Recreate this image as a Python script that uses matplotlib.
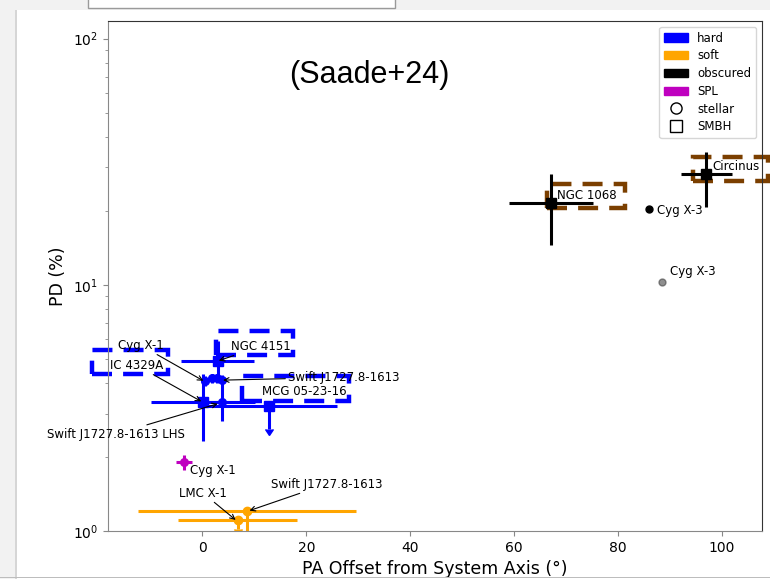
import numpy as np
import matplotlib.pyplot as plt
from matplotlib.patches import Patch, Rectangle
from matplotlib.lines import Line2D

fs = 8.5

# hard state, stellar-mass (circles)
hard_st_x = [0.5, 1.8, 2.8, 3.7, 3.8]
hard_st_y = [4.05, 4.2, 4.2, 4.1, 3.34]
hard_st_xerr = [0.6, 0.6, 0.6, 0.6, 3.0]
hard_st_ylo = [0.15, 0.2, 0.2, 0.15, 0.55]
hard_st_yhi = [0.2, 0.15, 0.15, 0.2, 0.8]

# hard state, SMBH (squares): NGC 4151, IC 4329A
hard_bh_x = [2.9, 0.1]
hard_bh_y = [4.9, 3.34]
hard_bh_xerr = [7.0, 10.0]
hard_bh_ylo = [0.76, 1.02]
hard_bh_yhi = [1.0, 0.99]

# MCG 05-23-16 (upper limit)
mcg_x, mcg_y, mcg_xerr, mcg_yerr = 12.9, 3.22, 13.0, 0.63

# soft state, stellar: LMC X-1 (upper limit), Swift J1727.8-1613
lmc_x, lmc_y, lmc_xerr, lmc_yerr = 6.8, 1.108, 11.5, 0.09
sws_x, sws_y, sws_xerr, sws_ylo = 8.6, 1.205, 21.0, 0.3

# SPL: Cyg X-1
spl_x, spl_y, spl_xerr, spl_yerr = -3.6, 1.905, 1.5, 0.14

# obscured SMBH: NGC 1068, Circinus
obs_bh_x = [67.2, 97.1]
obs_bh_y = [21.6, 28.1]
obs_bh_xerr = [8.1, 5.0]
obs_bh_ylo = [7.1, 7.3]
obs_bh_yhi = [6.5, 6.4]

# obscured stellar: Cyg X-3 (two estimates)
cx3_x = [86.1, 88.6]
cx3_y = [20.4, 10.3]

# dashed boxes: x0, x1, y0, y1, color
box_x0 = [-21.3, 2.6, 7.6, 66.4, 94.6]
box_x1 = [-6.65, 17.5, 28.2, 81.5, 109.0]
box_y0 = [4.33, 5.18, 3.37, 20.6, 26.5]
box_y1 = [5.42, 6.48, 4.26, 25.8, 33.2]
box_col = ["b", "b", "b", "#7b3f00", "#7b3f00"]

# labels: text, point (x, y), text position (x, y), arrow?
labels = [
    ("NGC 4151", (2.9, 4.9), (5.5, 5.63), True),
    ("Cyg X-1", (0.4, 4.05), (-16.3, 5.68), True),
    ("IC 4329A", (0.0, 3.34), (-17.8, 4.71), True),
    ("Swift J1727.8-1613", (3.7, 4.1), (16.5, 4.21), True),
    ("MCG 05-23-16", (12.9, 3.22), (11.5, 3.70), False),
    ("Swift J1727.8-1613 LHS", (3.2, 3.3), (-30.0, 2.475), True),
    ("Cyg X-1", (-3.6, 1.905), (-2.4, 1.768), False),
    ("LMC X-1", (6.6, 1.1), (-4.5, 1.426), True),
    ("Swift J1727.8-1613", (8.8, 1.205), (13.2, 1.551), True),
    ("NGC 1068", (67.2, 21.6), (68.4, 23.1), False),
    ("Circinus", (97.1, 28.1), (98.3, 30.3), False),
    ("Cyg X-3", (86.1, 20.4), (87.5, 20.05), False),
    ("Cyg X-3", (88.6, 10.3), (90.0, 11.35), False),
]

fig = plt.figure(figsize=(7.7, 5.79), dpi=100)

# slide background bits
fig.patches.append(Rectangle((0, 0), 15 / 770, 1, transform=fig.transFigure,
                             fc="#f2f2f2", ec="none", zorder=0))
fig.patches.append(Rectangle((0, 1 - 10 / 579), 1, 10 / 579, transform=fig.transFigure,
                             fc="#f2f2f2", ec="none", zorder=0))
fig.patches.append(Rectangle((15 / 770, 0), 1.5 / 770, 1 - 10 / 579, transform=fig.transFigure,
                             fc="#d6d6d6", ec="none", zorder=0))
fig.patches.append(Rectangle((88 / 770, 1 - 8 / 579), (395 - 88) / 770, 10 / 579,
                             transform=fig.transFigure, fc="white", ec="#9a9a9a",
                             lw=1, zorder=1))
fig.patches.append(Rectangle((0, 1 / 579), 1, 1.2 / 579, transform=fig.transFigure,
                             fc="#bdbdbd", ec="none", zorder=0))

ax = fig.add_axes([108 / 770, 1 - 531 / 579, 654 / 770, 510 / 579])

ekw = dict(ls="none", elinewidth=2.2, capsize=0)

ax.errorbar(hard_st_x, hard_st_y, xerr=hard_st_xerr, yerr=[hard_st_ylo, hard_st_yhi],
            fmt="o", color="b", ms=5.5, **ekw)
ax.errorbar(hard_bh_x, hard_bh_y, xerr=hard_bh_xerr, yerr=[hard_bh_ylo, hard_bh_yhi],
            fmt="s", color="b", ms=6.5, **ekw)
ax.errorbar(mcg_x, mcg_y, xerr=mcg_xerr, yerr=mcg_yerr, uplims=True,
            fmt="s", color="b", ms=6.5, **ekw)

ax.errorbar(lmc_x, lmc_y, xerr=lmc_xerr, yerr=lmc_yerr, uplims=True,
            fmt="o", color="orange", ms=6, **ekw)
ax.errorbar(sws_x, sws_y, xerr=sws_xerr, yerr=[[sws_ylo], [0]],
            fmt="o", color="orange", ms=6, **ekw)

ax.errorbar(spl_x, spl_y, xerr=spl_xerr, yerr=spl_yerr,
            fmt="o", color="m", ms=5.5, **ekw)

ax.errorbar(obs_bh_x, obs_bh_y, xerr=obs_bh_xerr, yerr=[obs_bh_ylo, obs_bh_yhi],
            fmt="s", color="k", ms=6.5, **ekw)
ax.plot(cx3_x[0], cx3_y[0], "o", color="k", ms=5)
ax.plot(cx3_x[1], cx3_y[1], "o", color="#444444", ms=5, alpha=0.6)

for x0, x1, y0, y1, c in zip(box_x0, box_x1, box_y0, box_y1, box_col):
    ax.add_patch(Rectangle((x0, y0), x1 - x0, y1 - y0, fill=False, ec=c, lw=3.2,
                           ls=(0, (4.5, 2.5)), clip_on=False, zorder=1))

for name, xy, xyt, arrow in labels:
    if arrow:
        ax.annotate(name, xy=xy, xytext=xyt, fontsize=fs, va="center", ha="left",
                    annotation_clip=False,
                    arrowprops=dict(arrowstyle="->", color="k", lw=0.8, shrinkA=0, shrinkB=1))
    else:
        ax.text(xyt[0], xyt[1], name, fontsize=fs, va="center", ha="left")

ax.text(0.399, 0.894, "(Saade+24)", transform=ax.transAxes, fontsize=22,
        family="Liberation Sans", ha="center", va="center")

ax.set_yscale("log")
ax.set_xlim(-18.2, 107.8)
ax.set_ylim(1, 118)
ax.set_xticks([0, 20, 40, 60, 80, 100])
ax.set_xlabel("PA Offset from System Axis (°)", fontsize=12.5)
ax.set_ylabel("PD (%)", fontsize=12.5)
ax.tick_params(labelsize=10, color="#888888")
ax.tick_params(which="minor", color="#888888")
for s in ["left", "bottom"]:
    ax.spines[s].set_color("#888888")
for s in ["top", "right"]:
    ax.spines[s].set_color("#333333")

handles = [
    Patch(color="b", label="hard"),
    Patch(color="orange", label="soft"),
    Patch(color="k", label="obscured"),
    Patch(color="m", label="SPL"),
    Line2D([], [], ls="none", marker="o", mfc="none", mec="k", ms=8, label="stellar"),
    Line2D([], [], ls="none", marker="s", mfc="none", mec="k", ms=8, label="SMBH"),
]
ax.legend(handles=handles, loc="upper right", fontsize=fs, labelspacing=0.4)

fig.savefig("out.png", dpi=100)
